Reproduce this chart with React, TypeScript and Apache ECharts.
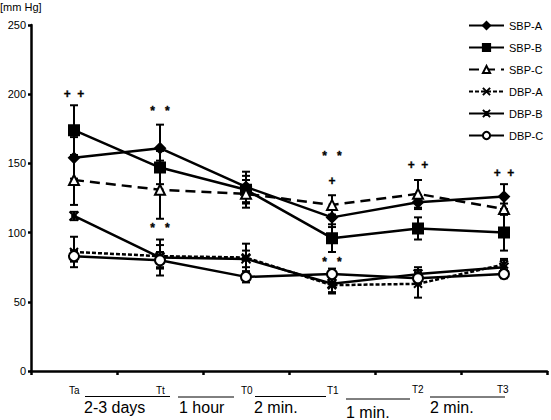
import React, { useEffect, useRef } from "react";
import * as echarts from "echarts";

// Measurement points
const categories = ["Ta", "Tt", "T0", "T1", "T2", "T3"];

// Systolic blood pressure (mean) per group
const sbpA = [154, 161, 133, 111, 122, 126];
const sbpB = [174, 147, 131, 96, 103, 100];
const sbpC = [138, 131, 128, 120, 128, 117];
// Diastolic blood pressure (mean) per group
const dbpA = [86, 83, 82, 62, 63, 77];
const dbpB = [112, 82, 81, 63, 70, 75];
const dbpC = [83, 80, 68, 70, 67, 70];

// Standard deviations
const sbpAErr = [15, 17, 11, 7, 5, 9];
const sbpBErr = [18, 12, 10, 10, 8, 13];
const sbpCErr = [18, 21, 10, 7, 10, 4];
const dbpAErr = [11, 8, 10, 5, 10, 4];
const dbpBErr = [3, 13, 6, 7, 5, 5];
const dbpCErr = [4, 6, 4, 4, 4, 3];

// Significance marks: [category index, height in mm Hg, text]
const significance: [number, number, string][] = [
  [0, 200, "+  +"],
  [1, 188, "*   *"],
  [1, 103, "*   *"],
  [3, 155, "*   *"],
  [3, 137, "+"],
  [3, 79, "*   *"],
  [4, 149, "+  +"],
  [5, 143, "+  +"],
];

const yTicks = [0, 50, 100, 150, 200, 250];
const yUnit = "[mm Hg]";

// Time-line captions under the axis
const timeLabels = ["Ta", "Tt", "T0", "T1", "T2", "T3"];
const intervals = ["2-3 days", "1 hour", "2 min.", "1 min.", "2 min."];

const FONT = "'Liberation Sans', Arial, sans-serif";
const X_PATH = "path://M0,0L10,10M10,0L0,10";
const STAR_PATH = "path://M0,0L10,10M10,0L0,10M3,3L7,3L7,7L3,7Z";

type SeriesDef = {
  name: string;
  data: number[];
  err: number[];
  symbol: string;
  symbolSize: number;
  dash: "solid" | number[];
  fill: string;
};

const seriesDefs: SeriesDef[] = [
  { name: "SBP-A", data: sbpA, err: sbpAErr, symbol: "diamond", symbolSize: 10, dash: "solid", fill: "#000" },
  { name: "SBP-B", data: sbpB, err: sbpBErr, symbol: "rect", symbolSize: 10, dash: "solid", fill: "#000" },
  { name: "SBP-C", data: sbpC, err: sbpCErr, symbol: "triangle", symbolSize: 10, dash: [10, 6], fill: "#fff" },
  { name: "DBP-A", data: dbpA, err: dbpAErr, symbol: X_PATH, symbolSize: 8, dash: [4, 2], fill: "#000" },
  { name: "DBP-B", data: dbpB, err: dbpBErr, symbol: STAR_PATH, symbolSize: 9, dash: "solid", fill: "#000" },
  { name: "DBP-C", data: dbpC, err: dbpCErr, symbol: "circle", symbolSize: 10, dash: "solid", fill: "#fff" },
];

export default function App() {
  const ref = useRef<HTMLDivElement>(null);

  useEffect(() => {
    if (!ref.current) return;
    const chart = echarts.init(ref.current, null, { renderer: "svg" });

    const errData: number[][] = [];
    seriesDefs.forEach((s) => {
      s.data.forEach((v, i) => errData.push([i, v - s.err[i], v + s.err[i]]));
    });

    const lineSeries = seriesDefs.map((s) => ({
      name: s.name,
      type: "line",
      data: s.data,
      symbol: s.symbol,
      symbolSize: s.symbolSize,
      showAllSymbol: true,
      z: 3,
      lineStyle: { color: "#000", width: 2.5, type: s.dash },
      itemStyle: { color: s.fill, borderColor: "#000", borderWidth: 2 },
      emphasis: { disabled: true },
    }));

    // Underlined time-point captions and interval captions
    const smallY = [390, 390, 390, 390, 389, 389];
    const smallX = [69, 156, 241, 327, 412, 497];
    const rules = [
      [85, 170, 396.5],
      [178, 234, 397],
      [255, 326, 396.5],
      [346, 410, 399],
      [430, 505, 397],
    ];
    const intervalX = [84, 179, 254, 346, 430];
    const intervalY = [407, 407, 407, 412, 407];

    const graphics: any[] = [
      {
        type: "text",
        left: 0,
        top: 1,
        style: { text: yUnit, font: `11px ${FONT}`, fill: "#000" },
      },
    ];
    timeLabels.forEach((t, i) =>
      graphics.push({
        type: "text",
        x: smallX[i],
        y: smallY[i],
        style: { text: t, font: `10px ${FONT}`, fill: "#000", textVerticalAlign: "middle" },
      })
    );
    rules.forEach((r) =>
      graphics.push({
        type: "line",
        shape: { x1: r[0], y1: r[2], x2: r[1], y2: r[2] },
        style: { stroke: "#000", lineWidth: 1 },
      })
    );
    intervals.forEach((t, i) =>
      graphics.push({
        type: "text",
        x: intervalX[i],
        y: intervalY[i],
        style: { text: t, font: `16px ${FONT}`, fill: "#000", textVerticalAlign: "middle" },
      })
    );

    chart.setOption({
      animation: false,
      textStyle: { fontFamily: FONT },
      grid: { left: 31, right: 4, top: 25, bottom: 49 },
      legend: {
        orient: "vertical",
        left: 468,
        top: 20,
        itemWidth: 35,
        itemHeight: 9,
        itemGap: 11,
        padding: 0,
        selectedMode: false,
        data: seriesDefs.map((s) => s.name),
        textStyle: { fontSize: 11, color: "#000", fontFamily: FONT },
      },
      xAxis: {
        type: "category",
        data: categories,
        boundaryGap: true,
        axisLine: { lineStyle: { color: "#000", width: 2.5 } },
        axisTick: { show: true, interval: 0, length: 4, lineStyle: { color: "#000", width: 2.5 } },
        axisLabel: { show: false },
        splitLine: { show: false },
      },
      yAxis: {
        type: "value",
        min: yTicks[0],
        max: yTicks[yTicks.length - 1],
        interval: 50,
        axisLine: { show: true, lineStyle: { color: "#000", width: 2.5 } },
        axisTick: { show: true, length: 3, lineStyle: { color: "#000", width: 2.5 } },
        axisLabel: { fontSize: 11, color: "#000", margin: 5, fontFamily: FONT },
        splitLine: { show: false },
      },
      series: [
        {
          type: "custom",
          name: "sd",
          z: 2,
          silent: true,
          data: errData,
          renderItem: (_params: any, api: any) => {
            const x = api.value(0);
            const top = api.coord([x, api.value(2)]);
            const bot = api.coord([x, api.value(1)]);
            const w = 4;
            const st = { stroke: "#000", lineWidth: 2 };
            return {
              type: "group",
              children: [
                { type: "line", shape: { x1: top[0], y1: top[1], x2: bot[0], y2: bot[1] }, style: st },
                { type: "line", shape: { x1: top[0] - w, y1: top[1], x2: top[0] + w, y2: top[1] }, style: st },
                { type: "line", shape: { x1: bot[0] - w, y1: bot[1], x2: bot[0] + w, y2: bot[1] }, style: st },
              ],
            };
          },
        },
        ...lineSeries,
        {
          type: "custom",
          name: "marks",
          silent: true,
          z: 4,
          data: significance.map((m) => [m[0], m[1]]),
          renderItem: (params: any, api: any) => {
            const p = api.coord([api.value(0), api.value(1)]);
            return {
              type: "text",
              x: p[0],
              y: p[1],
              style: {
                text: significance[params.dataIndex][2],
                font: `bold 12px ${FONT}`,
                fill: "#000",
                stroke: "#000",
                lineWidth: 0.3,
                textAlign: "center",
                textVerticalAlign: "middle",
              },
            };
          },
        },
      ],
      graphic: graphics,
    });

    return () => chart.dispose();
  }, []);

  return <div ref={ref} style={{ width: 551, height: 420, position: "absolute", left: 0, top: 0 }} />;
}
